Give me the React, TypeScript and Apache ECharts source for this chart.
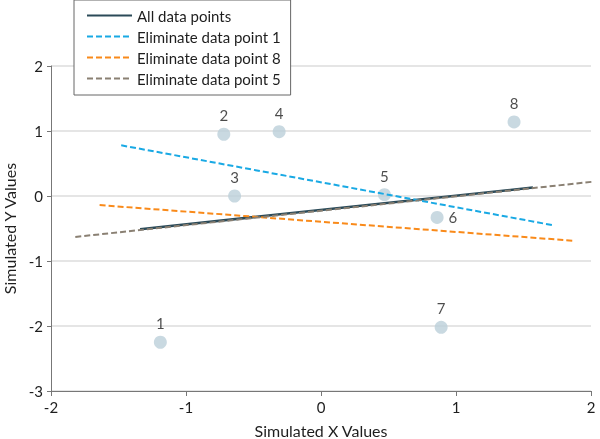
import React, { useEffect, useRef } from "react";
import * as echarts from "echarts";

const pointLabels = ["1", "2", "3", "4", "5", "6", "7", "8"];
const pointX = [-1.19, -0.72, -0.64, -0.31, 0.47, 0.86, 0.89, 1.43];
const pointY = [-2.25, 0.95, 0.0, 0.99, 0.02, -0.33, -2.02, 1.14];

const lineNames = [
  "All data points",
  "Eliminate data point 1",
  "Eliminate data point 8",
  "Eliminate data point 5",
];
const lineAllData = [
  [-1.34, -0.51],
  [1.57, 0.13],
];
const lineElim1 = [
  [-1.48, 0.78],
  [1.72, -0.45],
];
const lineElim8 = [
  [-1.64, -0.14],
  [1.88, -0.69],
];
const lineElim5 = [
  [-1.82, -0.63],
  [2.06, 0.23],
];

const xTicks = { min: -2, max: 2, interval: 1 };
const yTicks = { min: -3, max: 2, interval: 1 };

const FONT = "Lato";
const TXT = "#1e1e1e";

export default function App() {
  const ref = useRef<HTMLDivElement>(null);
  useEffect(() => {
    if (!ref.current) return;
    const chart = echarts.init(ref.current, null, { renderer: "svg" });
    const lineColors = ["#2b4a58", "#19a9e4", "#f98a1a", "#8a8073"];
    const lineData = [lineAllData, lineElim1, lineElim8, lineElim5];
    const labelPos = ["top", "top", "top", "top", "top", "right", "top", "top"];
    chart.setOption({
      animation: false,
      textStyle: { fontFamily: FONT },
      grid: {
        left: 51,
        right: 9,
        top: 66,
        bottom: 48,
        containLabel: false,
        outerBoundsMode: "none",
      },
      legend: {
        orient: "vertical",
        left: 74,
        top: 0,
        data: lineNames,
        itemWidth: 45,
        itemHeight: 14,
        itemGap: 6,
        padding: [8, 10, 9, 12],
        borderColor: "#666",
        borderWidth: 1,
        backgroundColor: "#fff",
        itemStyle: { opacity: 0 },
        textStyle: { fontFamily: FONT, fontSize: 15, color: TXT },
        selectedMode: false,
      },
      xAxis: {
        type: "value",
        ...xTicks,
        name: "Simulated X Values",
        nameLocation: "middle",
        nameGap: 31,
        nameTextStyle: { fontFamily: FONT, fontSize: 16, color: TXT },
        axisLine: { show: true, onZero: false, lineStyle: { color: "#777" } },
        axisTick: { show: true, length: 5, lineStyle: { color: "#777" } },
        axisLabel: { fontFamily: FONT, fontSize: 15, color: TXT, margin: 8 },
        splitLine: { show: false },
      },
      yAxis: {
        type: "value",
        ...yTicks,
        name: "Simulated Y Values",
        nameLocation: "middle",
        nameGap: 33,
        nameTextStyle: { fontFamily: FONT, fontSize: 16, color: TXT },
        axisLine: { show: true, onZero: false, lineStyle: { color: "#777" } },
        axisTick: { show: true, length: 4, lineStyle: { color: "#777" } },
        axisLabel: { fontFamily: FONT, fontSize: 15, color: TXT, margin: 8 },
        splitLine: { show: true, lineStyle: { color: "#dcdcdc", width: 1.5 } },
      },
      series: [
        {
          type: "scatter",
          z: 1,
          symbolSize: 13,
          itemStyle: { color: "#bccfd9" },
          data: pointX.map((x, i) => ({
            value: [x, pointY[i]],
            name: pointLabels[i],
            label: { position: labelPos[i] },
          })),
          label: {
            show: true,
            formatter: (p: any) => p.name,
            fontFamily: FONT,
            fontSize: 15,
            color: TXT,
            distance: 5,
          },
        },
        ...lineData.map((d, i) => ({
          type: "line",
          name: lineNames[i],
          z: 2 + i,
          data: d,
          clip: false,
          symbol: "none",
          showSymbol: false,
          color: lineColors[i],
          lineStyle: {
            color: lineColors[i],
            width: i === 0 ? 2.5 : 2,
            type: i === 0 ? "solid" : [6, 3],
          },
        })),
      ],
    });
    return () => chart.dispose();
  }, []);
  return (
    <div
      ref={ref}
      style={{ position: "fixed", left: 0, top: 0, width: 600, height: 439 }}
    />
  );
}
